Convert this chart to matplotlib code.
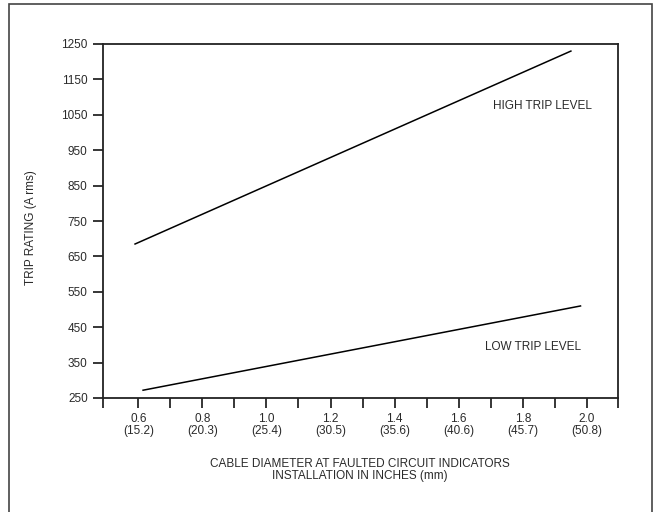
import matplotlib.pyplot as plt
from matplotlib.patches import Rectangle
import numpy as np

# cable diameter (inches) and trip rating (A rms)
high_x = [0.59, 1.95]
high_y = [685, 1230]
low_x = [0.615, 1.98]
low_y = [272, 510]

x_labels = ["0.6\n(15.2)", "0.8\n(20.3)", "1.0\n(25.4)", "1.2\n(30.5)",
            "1.4\n(35.6)", "1.6\n(40.6)", "1.8\n(45.7)", "2.0\n(50.8)"]
y_ticks = [250, 350, 450, 550, 650, 750, 850, 950, 1050, 1150, 1250]

plt.rcParams["font.family"] = ["Liberation Sans", "DejaVu Sans"]
txt = "#2a2a2a"

fig = plt.figure(figsize=(6.54, 5.12), dpi=100)
ax = fig.add_axes([103 / 654, 1 - 398 / 512, 515 / 654, 354 / 512])

# outer frame
fig.patches.append(Rectangle((9 / 654, -0.02), 643 / 654, 1 - 4 / 512 + 0.02,
                             transform=fig.transFigure, fill=False,
                             edgecolor="#444444", linewidth=1.2))

ax.plot(high_x, high_y, color="black", linewidth=1.1)
ax.plot(low_x, low_y, color="black", linewidth=1.1)

ax.text(1.707, 1075, "HIGH TRIP LEVEL", fontsize=8.5, color=txt, va="center")
ax.text(1.682, 394, "LOW TRIP LEVEL", fontsize=8.5, color=txt, va="center")

ax.set_xlim(0.49, 2.097)
ax.set_ylim(250, 1250)

major = np.arange(0.6, 2.01, 0.2)
minor = [0.49, 0.7, 0.9, 1.1, 1.3, 1.5, 1.7, 1.9, 2.097]
ax.set_xticks(major)
ax.set_xticklabels(x_labels, linespacing=0.95)
ax.set_xticks(minor, minor=True)
ax.set_yticks(y_ticks)

ax.tick_params(axis="x", which="both", length=7, width=1.1, color="black",
               pad=4, labelsize=8.5, labelcolor=txt)
ax.tick_params(axis="y", length=7.5, width=1.1, color="black",
               pad=3.5, labelsize=8.5, labelcolor=txt)

for s in ax.spines.values():
    s.set_linewidth(1.3)
    s.set_color("#222222")

fig.text(31 / 654, 1 - 228 / 512, "TRIP RATING (A rms)", rotation=90,
         fontsize=8.5, color=txt, ha="center", va="center")
fig.text(360 / 654, 1 - 470 / 512,
         "CABLE DIAMETER AT FAULTED CIRCUIT INDICATORS\nINSTALLATION IN INCHES (mm)",
         fontsize=8.5, color=txt, ha="center", va="center", linespacing=1.05)

fig.savefig("out.png", dpi=100)
